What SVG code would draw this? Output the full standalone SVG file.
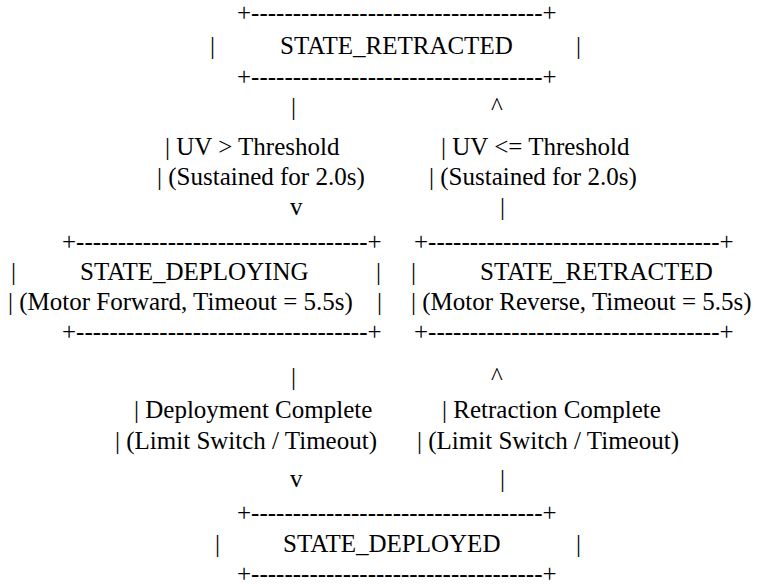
<svg xmlns="http://www.w3.org/2000/svg" width="775" height="584" viewBox="0 0 775 584">
<style>
text { font-family: "Liberation Serif", Tinos, "Times New Roman", Times, "DejaVu Serif", serif; font-size: 25px; fill: #000; white-space: pre; }
</style>
<rect width="775" height="584" fill="#fff"/>
<g font-family="'Liberation Serif', Tinos, 'Times New Roman', serif">
<g id="node-top-retracted">
<text x="237" y="21">+-----------------------------------+</text>
<text x="210" y="54">|</text>
<text x="280" y="54">STATE_RETRACTED</text>
<text x="576" y="54">|</text>
<text x="237" y="85">+-----------------------------------+</text>
</g>
<g id="node-deploying">
<text x="62" y="250">+-----------------------------------+</text>
<text x="11" y="280">|</text>
<text x="80" y="280">STATE_DEPLOYING</text>
<text x="376" y="280">|</text>
<text x="8" y="310">| (Motor Forward, Timeout = 5.5s)</text>
<text x="377" y="310">|</text>
<text x="62" y="340">+-----------------------------------+</text>
</g>
<g id="node-retracting">
<text x="414" y="250">+-----------------------------------+</text>
<text x="411" y="280">|</text>
<text x="480" y="280">STATE_RETRACTED</text>
<text x="411" y="310">| (Motor Reverse, Timeout = 5.5s)</text>
<text x="414" y="340">+-----------------------------------+</text>
</g>
<g id="node-deployed">
<text x="237" y="521">+-----------------------------------+</text>
<text x="215" y="552">|</text>
<text x="283" y="552">STATE_DEPLOYED</text>
<text x="576" y="552">|</text>
<text x="237" y="582">+-----------------------------------+</text>
</g>
<g id="connectors">
<text x="291" y="115">|</text>
<text x="491" y="115">^</text>
<text x="165" y="155">| UV &gt; Threshold</text>
<text x="441" y="155">| UV &lt;= Threshold</text>
<text x="157" y="185">| (Sustained for 2.0s)</text>
<text x="429" y="185">| (Sustained for 2.0s)</text>
<text x="290" y="215">v</text>
<text x="500" y="215">|</text>
<text x="291" y="385">|</text>
<text x="491" y="385">^</text>
<text x="134" y="418">| Deployment Complete</text>
<text x="442" y="418">| Retraction Complete</text>
<text x="115" y="449">| (Limit Switch / Timeout)</text>
<text x="417" y="449">| (Limit Switch / Timeout)</text>
<text x="290" y="487">v</text>
<text x="500" y="487">|</text>
</g>
</g>
</svg>
